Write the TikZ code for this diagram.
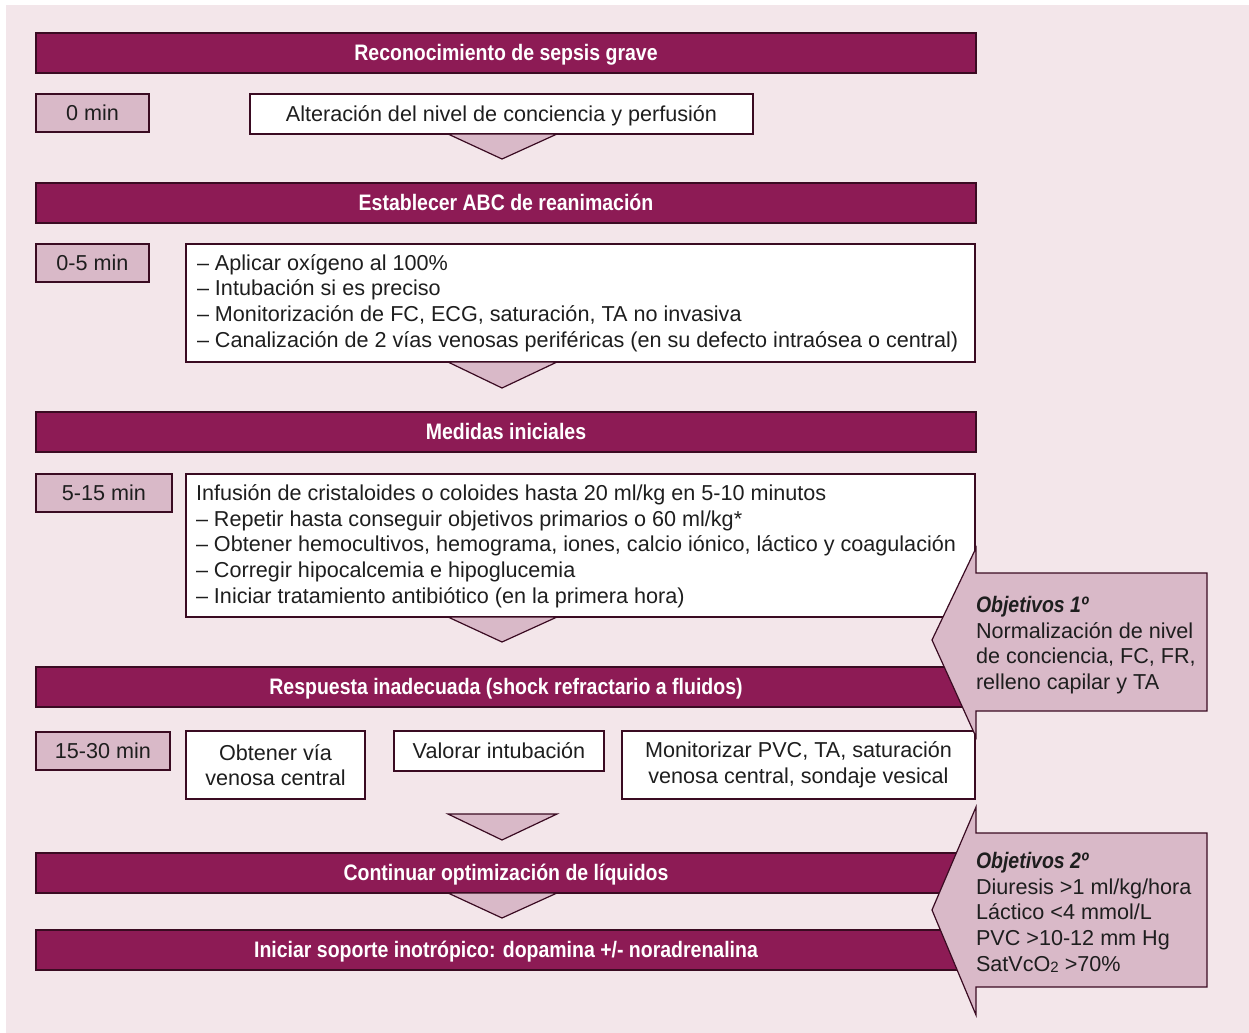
\documentclass[tikz,border=0pt]{standalone}
\usepackage{fontspec}
\setmainfont{Liberation Sans}
\newfontfamily\titlefont[FakeStretch=0.87]{Liberation Sans}
\usetikzlibrary{calc}

\definecolor{plum}{HTML}{8D1B55}
\definecolor{edge}{HTML}{3A0B22}
\definecolor{paper}{HTML}{F3E6EA}
\definecolor{rose}{HTML}{D9B9C8}
\definecolor{ink}{HTML}{1E1E1E}

\newcommand{\subtwo}{\raisebox{-0.12ex}{\fontsize{7.5pt}{8pt}\selectfont 2}}

\begin{document}
\begin{tikzpicture}[x=0.5pt,y=-0.5pt,
  every node/.style={inner sep=0pt, outer sep=0pt},
  body/.style={font=\fontsize{10.8pt}{12.85pt}\selectfont, text=ink},
  oneline/.style={text height=0.9em, text depth=0.184em},
  bar/.style={draw=edge, fill=plum, line width=0.6pt, minimum width=470pt,
    minimum height=20pt, text=white, oneline,
    font=\titlefont\bfseries\fontsize{11.2pt}{13pt}\selectfont},
  timebox/.style={body, oneline, draw=edge, fill=rose, line width=0.6pt, minimum height=19pt},
  whitebox/.style={body, draw=edge, fill=white, line width=0.6pt, align=center},
  framebox/.style={draw=edge, fill=white, line width=0.6pt, minimum width=394.5pt},
  listtext/.style={body, align=left, anchor=west},
  chevron/.style={draw=edge, fill=rose, line width=0.6pt, line join=miter},
  goal/.style={draw=edge, fill=rose, line width=0.6pt, line join=miter},
  goaltext/.style={body, align=left, anchor=west}]

% canvas
\useasboundingbox (0,0) rectangle (1249,1033);
\fill[paper] (6,5) rectangle (1249,1033);
\coordinate (axis) at (502,0);

% section bars
\node[bar] (b1) at (506,53) {Reconocimiento de sepsis grave};
\node[bar] (b2) at (506,203) {Establecer ABC de reanimación};
\node[bar] (b3) at (506,432) {Medidas iniciales};
\node[bar] (b4) at (506,687) {Respuesta inadecuada (shock refractario a fluidos)};
\node[bar] (b5) at (506,873) {Continuar optimización de líquidos};
\node[bar] (b6) at (506,950) {Iniciar soporte inotrópico: dopamina +/- noradrenalina};

% time labels
\node[timebox, minimum width=56.5pt] (t1) at (92.5,113) {0 min};
\node[timebox, minimum width=56.5pt] (t2) at (92.5,263) {0-5 min};
\node[timebox, minimum width=68pt] (t3) at (104,493) {5-15 min};
\node[timebox, minimum width=67pt] (t4) at (103,751) {15-30 min};

% content boxes
\node[whitebox, oneline, minimum width=251.5pt, minimum height=20pt] (w1) at (501.5,114)
  {Alteración del nivel de conciencia y perfusión};

\node[framebox, minimum height=59pt] (w2) at (580.5,303) {};
\node[listtext] (w2t) at (197,303)
  {– Aplicar oxígeno al 100\%\\
   – Intubación si es preciso\\
   – Monitorización de FC, ECG, saturación, TA no invasiva\\
   – Canalización de 2 vías venosas periféricas (en su defecto intraósea o central)};

\node[framebox, minimum height=71.5pt] (w3) at (580.5,545.5) {};
\node[listtext] (w3t) at (196,546)
  {Infusión de cristaloides o coloides hasta 20 ml/kg en 5-10 minutos\\
   – Repetir hasta conseguir objetivos primarios o 60 ml/kg*\\
   – Obtener hemocultivos, hemograma, iones, calcio iónico, láctico y coagulación\\
   – Corregir hipocalcemia e hipoglucemia\\
   – Iniciar tratamiento antibiótico (en la primera hora)};

\node[whitebox, minimum width=89.5pt, minimum height=34pt] (w4) at (275.5,765)
  {Obtener vía\\venosa central};
\node[whitebox, oneline, minimum width=105pt, minimum height=20pt] (w5) at (499,751)
  {Valorar intubación};
\node[whitebox, minimum width=176.5pt, minimum height=34pt] (w6) at (798.5,765)
  {Monitorizar PVC, TA, saturación\\venosa central, sondaje vesical};

% downward chevrons between steps
\draw[chevron] ([xshift=-27pt]axis |- w1.south) -- ([yshift=-12.5pt]axis |- w1.south)
  -- ([xshift=27.5pt]axis |- w1.south) -- cycle;
\draw[chevron] ([xshift=-27pt]axis |- w2.south) -- ([yshift=-13pt]axis |- w2.south)
  -- ([xshift=27.5pt]axis |- w2.south) -- cycle;
\draw[chevron] ([xshift=-27pt]axis |- w3.south) -- ([yshift=-12.5pt]axis |- w3.south)
  -- ([xshift=27.5pt]axis |- w3.south) -- cycle;
\coordinate (c4) at (502,814);
\draw[chevron] ([xshift=-27pt]c4) -- ([yshift=-13pt]c4) -- ([xshift=27.5pt]c4) -- cycle;
\draw[chevron] ([xshift=-27pt]axis |- b5.south) -- ([yshift=-12.5pt]axis |- b5.south)
  -- ([xshift=27.5pt]axis |- b5.south) -- cycle;

% goal call-outs
\draw[goal] (976,548) -- (976,573) -- (1207,573) -- (1207,711) -- (976,711)
  -- (976,737) -- (932,640) -- cycle;
\node[goaltext] (o1) at (976,645)
  {{\titlefont\bfseries\itshape\fontsize{11.2pt}{12.85pt}\selectfont Objetivos 1º}\\
   Normalización de nivel\\
   de conciencia, FC, FR,\\
   relleno capilar y TA};

\draw[goal] (976,807) -- (976,833) -- (1207,833) -- (1207,987) -- (976,987)
  -- (976,1015) -- (932,910) -- cycle;
\node[goaltext] (o2) at (976,912.5)
  {{\titlefont\bfseries\itshape\fontsize{11.2pt}{12.85pt}\selectfont Objetivos 2º}\\
   Diuresis >1 ml/kg/hora\\
   Láctico <4 mmol/L\\
   PVC >10-12 mm Hg\\
   SatVcO\subtwo{} >70\%};

\end{tikzpicture}
\end{document}
